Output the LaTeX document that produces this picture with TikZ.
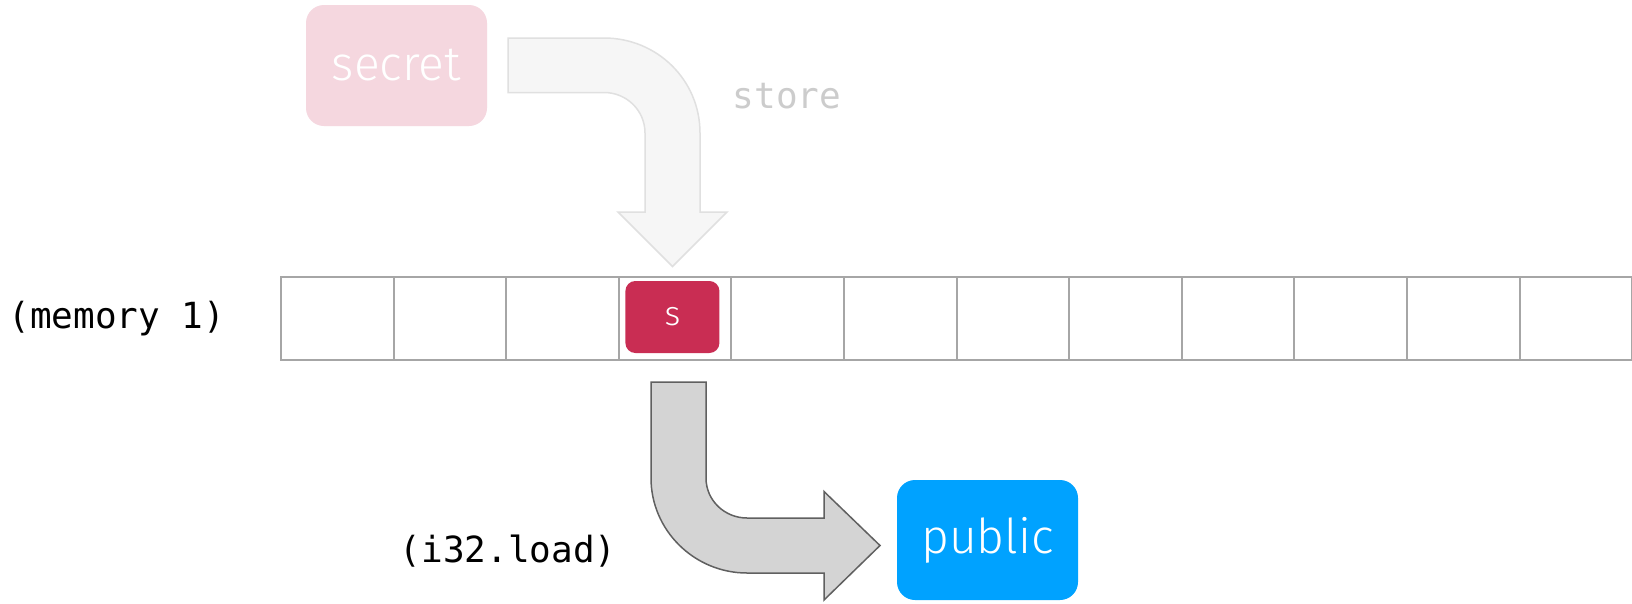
\documentclass[tikz,border=0pt]{standalone}
\usepackage{fontspec}
\setmainfont{Fira Sans Light}
\setmonofont{DejaVu Sans Mono}
\definecolor{secretpink}{HTML}{F5D7DF}
\definecolor{cellred}{HTML}{C92D53}
\definecolor{publicblue}{HTML}{00A2FF}
\definecolor{gridgray}{HTML}{A6A6A6}
\definecolor{storefill}{HTML}{F6F6F6}
\definecolor{storeline}{HTML}{E0E0E0}
\definecolor{storetext}{HTML}{CCCCCC}
\definecolor{loadfill}{HTML}{D4D4D4}
\definecolor{loadline}{HTML}{606060}
\tikzset{
  valbox/.style={rectangle, rounded corners=18pt, inner sep=0pt, outer sep=0pt,
    minimum width=181pt, minimum height=121pt, text=white,
    font=\fontsize{48}{48}\selectfont},
  memcell/.style={rectangle, draw=gridgray, line width=2pt, inner sep=0pt,
    minimum width=112.6pt, minimum height=83pt},
  cellval/.style={rectangle, rounded corners=10pt, fill=cellred, inner sep=0pt,
    minimum width=94pt, minimum height=72pt, text=white,
    font=\fontsize{34}{34}\selectfont},
  codelabel/.style={inner sep=0pt, font=\ttfamily\fontsize{36}{36}\selectfont},
  storearrow/.style={fill=storefill, draw=storeline, line width=1.5pt, line join=miter},
  loadarrow/.style={fill=loadfill, draw=loadline, line width=1.5pt, line join=miter}
}
\begin{document}
\begin{tikzpicture}[x=1pt,y=-1pt]
\clip (0,0) rectangle (1632,603);
\fill[white] (0,0) rectangle (1632,603);

% linear memory: a row of cells running off the right edge
\foreach \k in {1,...,12}
  \node[memcell] (cell\k) at ({281+(\k-0.5)*112.6},318.5) {};
\node[cellval] (sval) at (672.4,317) {s};
\node[codelabel, anchor=west] (memlabel) at (8.3,318.5) {(memory 1)};

% source and destination values
\node[valbox, fill=secretpink] (secret) at (396.5,65.5) {secret};
\node[valbox, fill=publicblue, minimum height=120pt] (public) at (987.5,540) {public};

% store: bent arrow from the secret value down into cell 4
\draw[storearrow]
  (508,38) -- (604,38)
  .. controls (657,38) and (700,80) .. (700,133)
  -- (700,212) -- (727,212) -- (672.5,266.5) -- (618,212) -- (645,212)
  -- (645,133)
  .. controls (645,110.4) and (626.6,92.5) .. (604,92.5)
  -- (508,92.5) -- cycle;
\node[codelabel, anchor=base west, text=storetext] (storelabel) at (732.5,108.3) {store};

% i32.load: bent arrow from cell 4 to the public value
\draw[loadarrow]
  (651,382) -- (706,382) -- (706,478)
  .. controls (706,500.4) and (724.6,518) .. (747,518)
  -- (824,518) -- (824,491.5) -- (880,545.5) -- (824,600) -- (824,573)
  -- (747,573)
  .. controls (694.5,573) and (651,530.5) .. (651,478)
  -- cycle;
\node[codelabel, anchor=west] (loadlabel) at (399.5,550.6) {(i32.load)};
\end{tikzpicture}
\end{document}
